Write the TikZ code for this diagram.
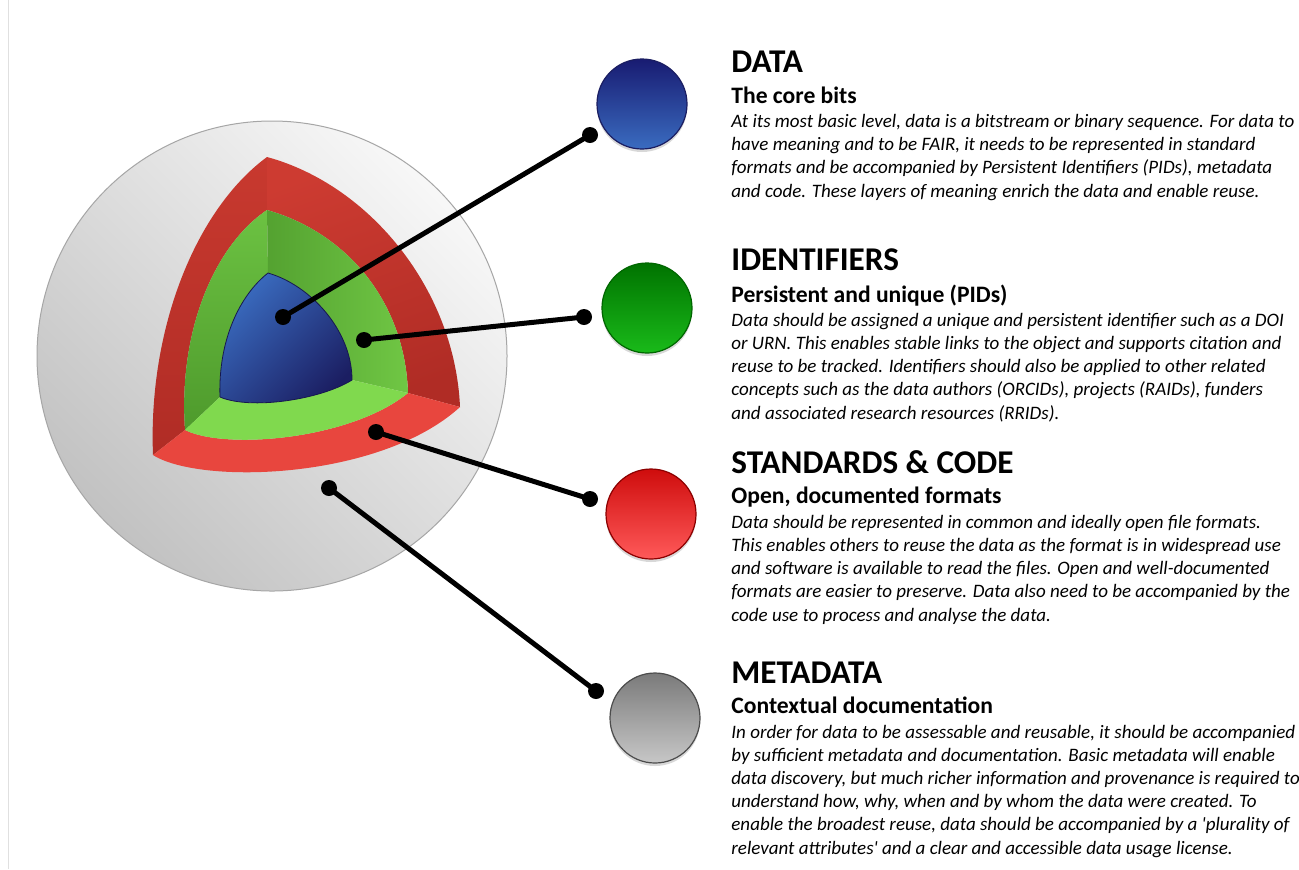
\documentclass[tikz,border=0pt]{standalone}
\usepackage{fontspec}
\setmainfont{Carlito}
\usepackage{xcolor}
\usepackage{tikz}
\usetikzlibrary{shadows}
\definecolor{redface}{HTML}{E8463E}
\definecolor{redleft}{HTML}{C8392F}
\definecolor{reddark}{HTML}{B02C25}
\definecolor{greenface}{HTML}{80D94E}
\definecolor{greenleft}{HTML}{6CC242}
\definecolor{greendark}{HTML}{4E9A2C}
\definecolor{corelight}{HTML}{3A6CC0}
\definecolor{coredark}{HTML}{1B1E62}
\tikzstyle{hd}=[%
      anchor=base west, inner sep=0pt, font=\fontsize{16.6}{19}\selectfont\bfseries
]
\tikzstyle{sb}=[%
      anchor=base west, inner sep=0pt, font=\fontsize{11.8}{14}\selectfont\bfseries
]
\tikzstyle{bd}=[%
      anchor=base west, inner sep=0pt, align=left, font=\fontsize{9.5}{11.6}\selectfont\itshape
]
\tikzstyle{ball}=[%
      circle, draw, line width=0.6pt, minimum size=45pt, inner sep=0pt,
      drop shadow={shadow xshift=0pt, shadow yshift=-1.5pt, opacity=0.3}
]
\tikzstyle{dot}=[%
      circle, fill=black, minimum size=8pt, inner sep=0pt
]
\tikzstyle{link}=[%
      line width=2.5pt, black
]

\begin{document}
\begin{tikzpicture}[x=0.5pt, y=-0.5pt]
    \useasboundingbox (0,0) rectangle (1299,869);
    \fill[white] (0,0) rectangle (1299,869);
    \draw[black!12, line width=0.5pt] (8,0) -- (8,869);

    \shade[top color=black!3, bottom color=black!24, shading angle=-45, draw=black!35, line width=0.5pt]
      (272,356) circle[radius=235];

    \coordinate (rT) at (267,157);
    \coordinate (rL) at (153,455);
    \coordinate (rR) at (460,407);
    \coordinate (gT) at (267,210);
    \coordinate (gL) at (185,430);
    \coordinate (gR) at (408,393);
    \coordinate (bT) at (268,273);
    \coordinate (bL) at (220,397);
    \coordinate (bR) at (352,380);

    \shade[top color=redleft, bottom color=reddark]
      (rT) .. controls (195,210) and (148,330) .. (rL) -- (gL)
           .. controls (178,330) and (215,245) .. (gT) -- cycle;
    \shade[top color=redleft!85!redface, bottom color=reddark, shading angle=20]
      (rT) .. controls (370,185) and (455,290) .. (rR) -- (gR)
           .. controls (405,300) and (345,232) .. (gT) -- cycle;
    \fill[redface]
      (rL) .. controls (200,485) and (380,480) .. (rR) -- (gR)
           .. controls (350,440) and (225,450) .. (gL) -- cycle;

    \shade[top color=greenleft, bottom color=greendark]
      (gT) .. controls (215,245) and (178,330) .. (gL) -- (bL)
           .. controls (218,340) and (240,295) .. (bT) -- cycle;
    \shade[left color=greendark!80!greenleft, right color=greenleft!80!greenface]
      (gT) .. controls (345,232) and (405,300) .. (gR) -- (bR)
           .. controls (352,330) and (310,285) .. (bT) -- cycle;
    \fill[greenface]
      (gL) .. controls (225,450) and (350,440) .. (gR) -- (bR)
           .. controls (320,400) and (250,410) .. (bL) -- cycle;

    \shade[top color=corelight, bottom color=coredark, shading angle=45, draw=coredark!80!black, line width=0.4pt]
      (bT) .. controls (240,295) and (218,340) .. (bL)
           .. controls (250,410) and (320,400) .. (bR)
           .. controls (352,330) and (310,285) .. (bT) -- cycle;

    \node[ball, draw=coredark, top color=coredark!90!blue, bottom color=corelight] (databall) at (642,104) {};
    \node[ball, draw=green!40!black, top color=green!45!black, bottom color=green!70!black!90!white] (idball) at (647,308) {};
    \node[ball, draw=red!55!black, top color=red!80!black!95!white, bottom color=red!65!white] (stdball) at (651,514) {};
    \node[ball, draw=black!70, top color=black!52, bottom color=black!22] (metaball) at (655,718) {};

    \node[dot] (datacore) at (283,317) {};
    \node[dot] (dataend)  at (590,135) {};
    \node[dot] (idcore)   at (364,340) {};
    \node[dot] (idend)    at (584,317) {};
    \node[dot] (stdcore)  at (376,432) {};
    \node[dot] (stdend)   at (590,499) {};
    \node[dot] (metacore) at (329,488) {};
    \node[dot] (metaend)  at (596,691) {};

    \draw[link] (datacore.center) -- (dataend.center);
    \draw[link] (idcore.center) -- (idend.center);
    \draw[link] (stdcore.center) -- (stdend.center);
    \draw[link] (metacore.center) -- (metaend.center);

    \node[hd] (datahd) at (731,72) {DATA};
    \node[sb] (datasb) at (731,103) {The core bits};
    \node[bd] (databd) at (731,197) {At its most basic level, data is a bitstream or binary sequence. For data to\\
      have meaning and to be FAIR, it needs to be represented in standard\\
      formats and be accompanied by Persistent Identifiers (PIDs), metadata\\
      and code. These layers of meaning enrich the data and enable reuse.};

    \node[hd] (idhd) at (731,270) {IDENTIFIERS};
    \node[sb] (idsb) at (731,302) {Persistent and unique (PIDs)};
    \node[bd] (idbd) at (731,419) {Data should be assigned a unique and persistent identifier such as a DOI\\
      or URN. This enables stable links to the object and supports citation and\\
      reuse to be tracked. Identifiers should also be applied to other related\\
      concepts such as the data authors (ORCIDs), projects (RAIDs), funders\\
      and associated research resources (RRIDs).};

    \node[hd] (stdhd) at (731,473) {STANDARDS \& CODE};
    \node[sb] (stdsb) at (731,503) {Open, documented formats};
    \node[bd] (stdbd) at (731,621) {Data should be represented in common and ideally open file formats.\\
      This enables others to reuse the data as the format is in widespread use\\
      and software is available to read the files. Open and well-documented\\
      formats are easier to preserve. Data also need to be accompanied by the\\
      code use to process and analyse the data.};

    \node[hd] (metahd) at (731,683) {METADATA};
    \node[sb] (metasb) at (731,713) {Contextual documentation};
    \node[bd] (metabd) at (731,854) {In order for data to be assessable and reusable, it should be accompanied\\
      by sufficient metadata and documentation. Basic metadata will enable\\
      data discovery, but much richer information and provenance is required to\\
      understand how, why, when and by whom the data were created. To\\
      enable the broadest reuse, data should be accompanied by a \textquotesingle plurality of\\
      relevant attributes\textquotesingle{} and a clear and accessible data usage license.};
\end{tikzpicture}
\end{document}
